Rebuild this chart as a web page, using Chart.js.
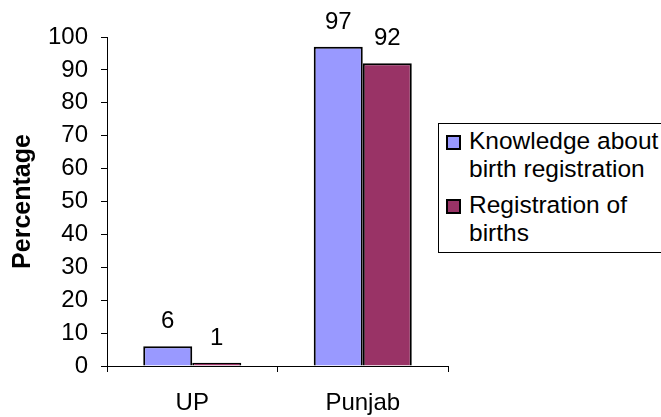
<!DOCTYPE html>
<html>
<head>
<meta charset="utf-8">
<script src="https://cdn.jsdelivr.net/npm/chart.js@4/dist/chart.umd.min.js"></script>
<style>
  html, body { margin: 0; padding: 0; background: #fff; }
  #wrap { position: relative; width: 661px; height: 417px; overflow: hidden; }
  #legend {
    position: absolute; left: 438px; top: 123px; width: 240px; height: 130px;
    border: 1px solid #000; background: #fff;
    font-family: "Liberation Sans", Arial, sans-serif; font-size: 24.5px; line-height: 28px; color: #000;
    padding: 3px 0 0 7px; box-sizing: border-box;
  }
  .item { display: flex; align-items: flex-start; margin-bottom: 8px; }
  .swatch { width: 11px; height: 11px; border: 2px solid #000; margin: 8px 8px 0 0; flex: none; }
</style>
</head>
<body>
<div id="wrap">
  <canvas id="chart" width="661" height="417"></canvas>
  <div id="legend"></div>
</div>
<script>
const categories = ['UP', 'Punjab'];
const knowledge = [6, 97];
const registration = [1, 92];
const seriesNames = [['Knowledge about', 'birth registration'], ['Registration of', 'births']];
const seriesColors = ['#9999FF', '#993366'];

const FONT = '"Liberation Sans", Arial, sans-serif';

// value labels above each bar
const valueLabels = {
  id: 'valueLabels',
  afterDatasetsDraw(chart) {
    const ctx = chart.ctx;
    ctx.save();
    ctx.font = '24px ' + FONT;
    ctx.fillStyle = '#000';
    ctx.textAlign = 'center';
    ctx.textBaseline = 'alphabetic';
    chart.data.datasets.forEach((ds, i) => {
      chart.getDatasetMeta(i).data.forEach((bar, j) => {
        ctx.fillText(ds.data[j], bar.x, bar.y - 18);
      });
    });
    ctx.restore();
  }
};

new Chart(document.getElementById('chart'), {
  type: 'bar',
  data: {
    labels: categories,
    datasets: [
      { label: seriesNames[0].join(' '), data: knowledge, backgroundColor: seriesColors[0], borderColor: '#000', borderWidth: 2 },
      { label: seriesNames[1].join(' '), data: registration, backgroundColor: seriesColors[1], borderColor: '#000', borderWidth: 2 }
    ]
  },
  options: {
    responsive: false,
    animation: false,
    layout: { padding: { top: 37, right: 213, bottom: 0, left: 0 } },
    datasets: { bar: { barPercentage: 1, categoryPercentage: 0.575 } },
    plugins: { legend: { display: false }, tooltip: { enabled: false } },
    scales: {
      x: {
        grid: { drawOnChartArea: false, tickLength: 6, color: '#000' },
        border: { color: '#000', width: 1 },
        ticks: { color: '#000', font: { family: FONT, size: 24 }, padding: 17 },
        afterFit(scale) { scale.height = 51; }
      },
      y: {
        min: 0, max: 100,
        grid: { drawOnChartArea: false, tickLength: 6, color: '#000' },
        border: { color: '#000', width: 1 },
        ticks: { stepSize: 10, color: '#000', font: { family: FONT, size: 24 }, padding: 13 },
        title: { display: true, text: 'Percentage', color: '#000', font: { family: FONT, size: 25, weight: 'bold' }, padding: { top: 8, bottom: 0 } },
        afterFit(scale) { scale.width = 107; }
      }
    }
  },
  plugins: [valueLabels]
});

// legend with wrapped labels
const legend = document.getElementById('legend');
seriesNames.forEach((lines, i) => {
  const item = document.createElement('div');
  item.className = 'item';
  item.innerHTML = `<div class="swatch" style="background:${seriesColors[i]}"></div><div>${lines.join('<br>')}</div>`;
  legend.appendChild(item);
});
</script>
</body>
</html>
